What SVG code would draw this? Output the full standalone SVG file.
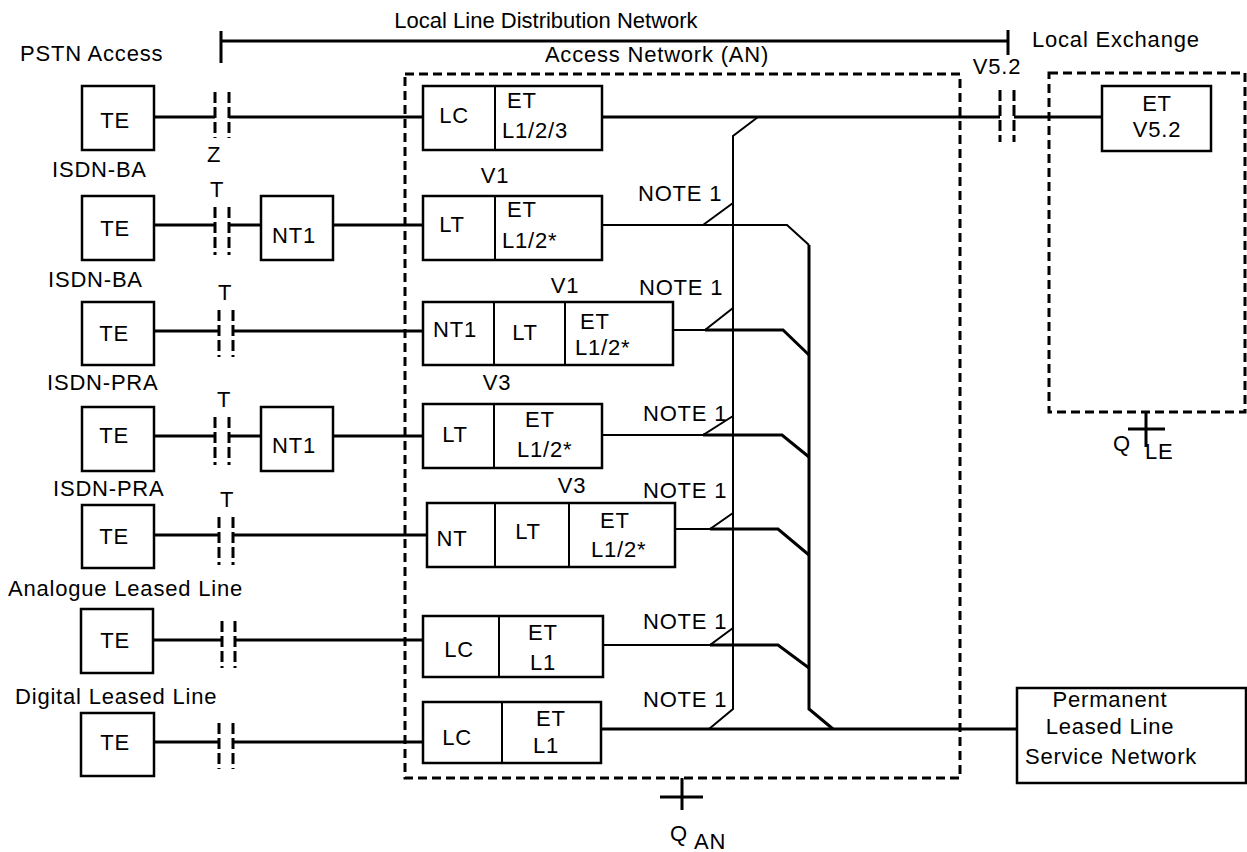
<svg xmlns="http://www.w3.org/2000/svg" width="1247" height="852" viewBox="0 0 1247 852">
<style>
text{font-family:"Liberation Sans",Arial,sans-serif;font-size:22px;letter-spacing:0.8px;fill:#000}
.m{text-anchor:middle}
.ttl{letter-spacing:0}
.box{fill:#fff;stroke:#000;stroke-width:2.5}
.dash{fill:none;stroke:#000;stroke-width:3;stroke-dasharray:9 5}
.gap{fill:none;stroke:#000;stroke-width:3;stroke-dasharray:11 4}
.thk{fill:none;stroke:#000;stroke-width:3}
.thn{fill:none;stroke:#000;stroke-width:2}
</style>
<rect width="1247" height="852" fill="#fff"/>

<g id="boundaries">
  <rect class="dash" x="405" y="74" width="555" height="704"/>
  <rect class="dash" x="1049" y="73" width="196" height="339"/>
  <path class="thk" d="M682 778V810M660 797H703"/>
  <path class="thk" d="M1146 412V447M1128 429H1165"/>
</g>

<g id="labels">
  <path class="thk" d="M221 41H1008M221 31V63M1008 30V55"/>
  <text class="m ttl" x="546" y="28">Local Line Distribution Network</text>
  <text class="m" x="657" y="62">Access Network (AN)</text>
  <text x="1032" y="47">Local Exchange</text>
  <text class="m" x="997" y="74">V5.2</text>
  <text x="20" y="61">PSTN Access</text>
  <text class="m" x="214" y="162">Z</text>
  <text x="52" y="177">ISDN-BA</text>
  <text class="m" x="217" y="197">T</text>
  <text x="48" y="287">ISDN-BA</text>
  <text class="m" x="225" y="300">T</text>
  <text x="47" y="390">ISDN-PRA</text>
  <text class="m" x="224" y="407">T</text>
  <text x="53" y="496">ISDN-PRA</text>
  <text class="m" x="227" y="507">T</text>
  <text x="8" y="596">Analogue Leased Line</text>
  <text x="15" y="704">Digital Leased Line</text>
  <text class="m" x="495" y="183">V1</text>
  <text class="m" x="565" y="293">V1</text>
  <text class="m" x="497" y="390">V3</text>
  <text class="m" x="572" y="493">V3</text>
  <text x="638" y="201">NOTE 1</text>
  <text x="639" y="295">NOTE 1</text>
  <text x="643" y="421">NOTE 1</text>
  <text x="643" y="498">NOTE 1</text>
  <text x="643" y="629">NOTE 1</text>
  <text x="643" y="707">NOTE 1</text>
  <text x="1113" y="451">Q</text>
  <text x="1145" y="459">LE</text>
  <text x="670" y="841">Q</text>
  <text x="694" y="849">AN</text>
</g>

<g id="te1"><rect class="box" x="82" y="86" width="72" height="64"/><text class="m" x="115" y="128">TE</text></g>
<g id="te2"><rect class="box" x="82" y="196" width="72" height="64"/><text class="m" x="115" y="236">TE</text></g>
<g id="te3"><rect class="box" x="82" y="302" width="72" height="63"/><text class="m" x="114" y="341">TE</text></g>
<g id="te4"><rect class="box" x="82" y="407" width="72" height="64"/><text class="m" x="114" y="443">TE</text></g>
<g id="te5"><rect class="box" x="82" y="505" width="72" height="63"/><text class="m" x="114" y="544">TE</text></g>
<g id="te6"><rect class="box" x="81" y="609" width="72" height="64"/><text class="m" x="115" y="648">TE</text></g>
<g id="te7"><rect class="box" x="81" y="713" width="73" height="63"/><text class="m" x="115" y="750">TE</text></g>

<g id="nt1-r2"><rect class="box" x="261" y="196" width="72" height="64"/><text class="m" x="294" y="243">NT1</text></g>
<g id="nt1-r4"><rect class="box" x="261" y="407" width="72" height="64"/><text class="m" x="294" y="453">NT1</text></g>

<g id="an-r1">
  <rect class="box" x="423" y="86" width="179" height="64"/><path class="thn" d="M495 86V150"/>
  <text class="m" x="454" y="123">LC</text><text x="507" y="108">ET</text><text x="502" y="138">L1/2/3</text>
</g>
<g id="an-r2">
  <rect class="box" x="423" y="196" width="179" height="64"/><path class="thn" d="M495 196V260"/>
  <text class="m" x="452" y="232">LT</text><text x="507" y="217">ET</text><text x="502" y="248">L1/2*</text>
</g>
<g id="an-r3">
  <rect class="box" x="423" y="302" width="250" height="63"/><path class="thn" d="M494 302V365M565 302V365"/>
  <text class="m" x="455" y="337">NT1</text><text class="m" x="525" y="340">LT</text><text x="580" y="329">ET</text><text x="575" y="355">L1/2*</text>
</g>
<g id="an-r4">
  <rect class="box" x="423" y="404" width="179" height="64"/><path class="thn" d="M494 404V468"/>
  <text class="m" x="455" y="442">LT</text><text x="525" y="427">ET</text><text x="517" y="457">L1/2*</text>
</g>
<g id="an-r5">
  <rect class="box" x="427" y="503" width="248" height="64"/><path class="thn" d="M495 503V567M569 503V567"/>
  <text class="m" x="452" y="546">NT</text><text class="m" x="528" y="539">LT</text><text x="600" y="528">ET</text><text x="591" y="557">L1/2*</text>
</g>
<g id="an-r6">
  <rect class="box" x="423" y="616" width="180" height="61"/><path class="thn" d="M499 616V677"/>
  <text class="m" x="459" y="657">LC</text><text x="528" y="640">ET</text><text x="530" y="670">L1</text>
</g>
<g id="an-r7">
  <rect class="box" x="423" y="702" width="178" height="61"/><path class="thn" d="M502 702V763"/>
  <text class="m" x="457" y="745">LC</text><text x="536" y="726">ET</text><text x="533" y="753">L1</text>
</g>

<g id="et-v52"><rect class="box" x="1102" y="86" width="109" height="65"/><text class="m" x="1157" y="111">ET</text><text class="m" x="1157" y="137">V5.2</text></g>

<g id="pllsn"><rect class="box" x="1017" y="688" width="229" height="95"/>
  <text class="m" x="1110" y="707">Permanent</text><text class="m" x="1110" y="734">Leased Line</text><text class="m" x="1111" y="764">Service Network</text></g>

<g id="connectors">
  <path class="gap" d="M215 92V138M229 92V138M215 207V255M229 207V255M219 310V357M233 310V357M215 417V465M229 417V465M219 517V565M233 517V565M222 621V668M235 621V668M219 723V769M233 723V769M1000 90V142M1014 90V142"/>
  <path class="thk" d="M154 117H215M229 117H423M602 117H1000M1014 117H1102"/>
  <path class="thk" d="M154 225H215M229 225H261M333 225H423"/>
  <path class="thk" d="M154 331H219M233 331H423"/>
  <path class="thk" d="M154 436H215M229 436H261M333 436H423"/>
  <path class="thk" d="M154 535H219M233 535H427"/>
  <path class="thk" d="M153 640H222M235 640H423"/>
  <path class="thk" d="M154 742H219M233 742H423"/>
  <path class="thn" d="M758 117L733 136V709L709 729"/>
  <path class="thn" d="M602 225H787L809 245"/>
  <path class="thk" d="M809 245V709L833 729"/>
  <path class="thn" d="M703 225L733 203"/>
  <path class="thn" d="M673 330H705L733 308"/>
  <path class="thk" d="M705 330H783L809 355"/>
  <path class="thn" d="M602 435H703L733 416"/>
  <path class="thk" d="M703 435H782L809 457"/>
  <path class="thn" d="M675 529H710L733 513"/>
  <path class="thk" d="M710 529H778L809 555"/>
  <path class="thn" d="M603 645H710L733 628"/>
  <path class="thk" d="M710 645H778L809 668"/>
  <path class="thk" d="M601 729H1017"/>
</g>
</svg>
